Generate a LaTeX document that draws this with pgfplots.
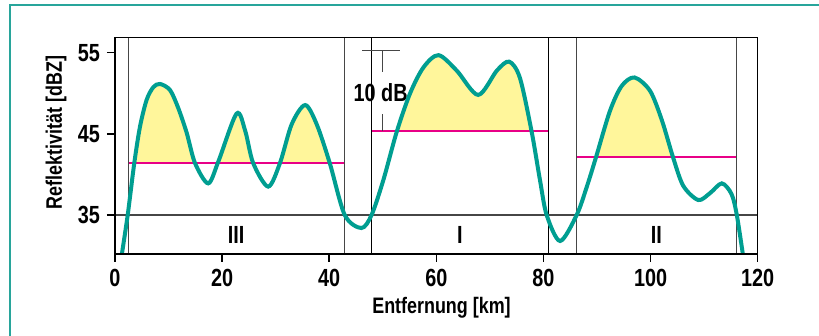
\documentclass[border=0pt]{standalone}
\usepackage{fontspec}
\setmainfont{Liberation Sans}[FakeStretch=0.8]
\usepackage{pgfplots}
\usepackage{pgfplotstable}
\pgfplotsset{compat=1.18}
\definecolor{tealc}{RGB}{0,158,145}
\definecolor{framec}{RGB}{40,165,155}
\definecolor{yel}{RGB}{255,246,155}
\definecolor{threshmag}{RGB}{232,0,135}
\definecolor{lgray}{RGB}{70,70,70}
\newcommand\hv[1]{\fontsize{#1}{#1}\selectfont\bfseries}
\pgfplotstableread{
x y
1.1 29.4
2.37 35.0
3.6 41.4
4.67 45.9
5.91 49.2
7.15 50.75
8.4 51.15
10.27 50.4
11.8 48.2
13.4 45.1
14.94 41.4
17.4 38.9
19.3 41.6
22.7 47.5
24.3 45.4
25.8 41.4
28.6 38.5
30.8 41.4
33.0 46.2
35.5 48.55
37.65 46.2
40.1 41.4
42.9 35.0
46.0 33.4
47.9 35.0
50.1 39.3
52.6 45.25
55.1 50.0
57.6 53.2
60.4 54.7
63.8 52.8
67.8 49.8
71.3 52.8
73.6 53.9
75.6 51.9
77.8 45.25
79.35 39.3
80.6 35.0
83.1 31.8
86.2 35.0
88.1 38.5
89.8 42.1
92.4 47.8
94.6 50.9
97.0 51.95
99.9 50.3
102.1 46.7
104.2 42.1
106.1 38.6
108.9 36.85
111.1 37.7
113.3 38.9
115.1 37.6
116.1 35.0
117.4 29.4
}\curvedata
\pgfplotstableread{
x y
-1 60
2.5 60
2.5 41.4
42.8 41.4
42.8 60
47.8 60
47.8 45.3
80.9 45.3
80.9 60
86.1 60
86.1 42.1
116.1 42.1
116.1 60
121 60
}\coverdata
\begin{document}
\begin{tikzpicture}
\useasboundingbox (0,0) rectangle (409.5pt,168pt);
\draw[framec, line width=1pt] (5pt,0) -- (5pt,165.5pt) -- (409.5pt,165.5pt);
\begin{axis}[
  at={(57.5pt,41pt)}, anchor=south west,
  scale only axis, width=321.35pt, height=108.15pt,
  xmin=0, xmax=120, ymin=30.2, ymax=56.85,
  xtick={0,20,...,120}, ytick={35,45,55},
  tick align=outside, tick pos=left,
  major tick length=4pt,
  axis on top,
  axis line style={line width=0.75pt},
  every tick/.style={black, line width=0.75pt},
  /pgf/number format/assume math mode=true,
  ticklabel style={font=\hv{12.4}},
  xlabel={Entfernung [km]}, ylabel={Reflektivität [dBZ]},
  label style={font=\hv{11.2}},
  xlabel style={at={(axis description cs:0.508,-0.277)}, anchor=base},
  ylabel style={at={(axis description cs:-0.0918,0.562)}, anchor=center},
]
% yellow area under the curve, then white cover below the thresholds
\addplot[fill=yel, draw=none, smooth] table {\curvedata} \closedcycle;
\addplot[fill=white, draw=none] table {\coverdata} \closedcycle;
% threshold lines
\addplot[color=threshmag, line width=1pt] coordinates {(2.5,41.4) (42.8,41.4)};
\addplot[color=threshmag, line width=1pt] coordinates {(47.8,45.3) (80.9,45.3)};
\addplot[color=threshmag, line width=1pt] coordinates {(86.1,42.1) (116.1,42.1)};
% region boundaries
\addplot[lgray, line width=0.5pt] coordinates {(2.5,20) (2.5,60)};
\addplot[lgray, line width=0.5pt] coordinates {(42.8,20) (42.8,60)};
\addplot[black, line width=0.5pt] coordinates {(47.8,20) (47.8,60)};
\addplot[black, line width=0.5pt] coordinates {(80.9,20) (80.9,60)};
\addplot[lgray, line width=0.5pt] coordinates {(86.1,20) (86.1,60)};
\addplot[lgray, line width=0.5pt] coordinates {(116.1,20) (116.1,60)};
\addplot[lgray, line width=0.75pt] coordinates {(-5,35) (125,35)};
% 10 dB scale bar
\addplot[lgray, line width=0.5pt] coordinates {(46.2,55.3) (53.2,55.3)};
\addplot[lgray, line width=0.5pt] coordinates {(49.9,55.3) (49.9,52.6)};
\addplot[lgray, line width=0.5pt] coordinates {(49.9,47.4) (49.9,45.3)};
\node[font=\hv{12.4}] at (axis cs:49.6,50.1) {10 dB};
% region labels
\node[font=\hv{12.4}] at (axis cs:22.6,32.6) {III};
\node[font=\hv{12.4}] at (axis cs:64.4,32.6) {I};
\node[font=\hv{12.4}] at (axis cs:101.1,32.6) {II};
% curve
\addplot[tealc, line width=2pt, smooth] table {\curvedata};
\end{axis}
\end{tikzpicture}
\end{document}
